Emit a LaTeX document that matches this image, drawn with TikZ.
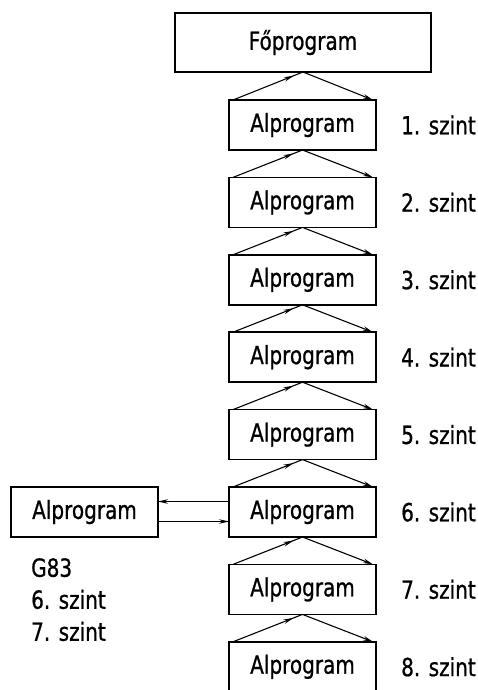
\documentclass[tikz,border=0pt]{standalone}
\usepackage{fontspec}
\setmainfont[FakeStretch=0.8, FakeBold=0.8]{DejaVu Sans}
\usetikzlibrary{arrows.meta,positioning,decorations.markings}

\begin{document}
\begin{tikzpicture}[x=1pt, y=1pt,
      alp/.style={draw, line width=1.7pt, outer sep=0pt, inner sep=0pt,
                  minimum width=147pt, minimum height=50pt,
                  font=\fontsize{25}{28}\selectfont},
      fo/.style={alp, minimum width=256pt, minimum height=59pt},
      lvl/.style={inner sep=0pt, font=\fontsize{25}{32}\selectfont},
      arr/.style={-{Stealth[length=10pt,width=4.5pt]}, line width=1.1pt},
      ret/.style={line width=1.1pt, decoration={markings,
                  mark=at position 0.87 with {\arrow{Stealth[length=10pt,width=4.5pt]}}},
                  postaction=decorate}
  ]
    \useasboundingbox (0,0) rectangle (477,-690);
    \node[fo] (fo) at (303,-42.5) {Főprogram};
    \node[alp] (a1) at (302.5,-125) {Alprogram};
    \foreach \i [count=\j from 1] in {2,...,8}
      \node[alp, below=27.4pt of a\j] (a\i) {Alprogram};
    \foreach \i in {1,...,8}
      \node[lvl, right=25pt of a\i] (s\i) {\i. szint};

    % hivas lefele, visszateres felfele
    \draw[ret] ([xshift=4pt]a1.north west) -- (fo.south);
    \draw[arr] (fo.south) -- ([xshift=-3pt]a1.north east);
    \foreach \i [count=\j from 1] in {2,...,8} {
      \draw[ret] ([xshift=4pt]a\i.north west) -- (a\j.south);
      \draw[arr] (a\j.south) -- ([xshift=-3pt]a\i.north east);
    }

    % G83 ciklus
    \node[alp, left=71pt of a6] (g) {Alprogram};
    \draw[arr] ([yshift=10.5pt]a6.west) -- ([yshift=10.5pt]g.east);
    \draw[arr] ([yshift=-9.5pt]g.east) -- ([yshift=-9.5pt]a6.west);
    \node[lvl, anchor=north west, align=left] (g83)
      at ([xshift=20pt,yshift=-21pt]g.south west) {G83\\6. szint\\7. szint};
  \end{tikzpicture}
\end{document}
